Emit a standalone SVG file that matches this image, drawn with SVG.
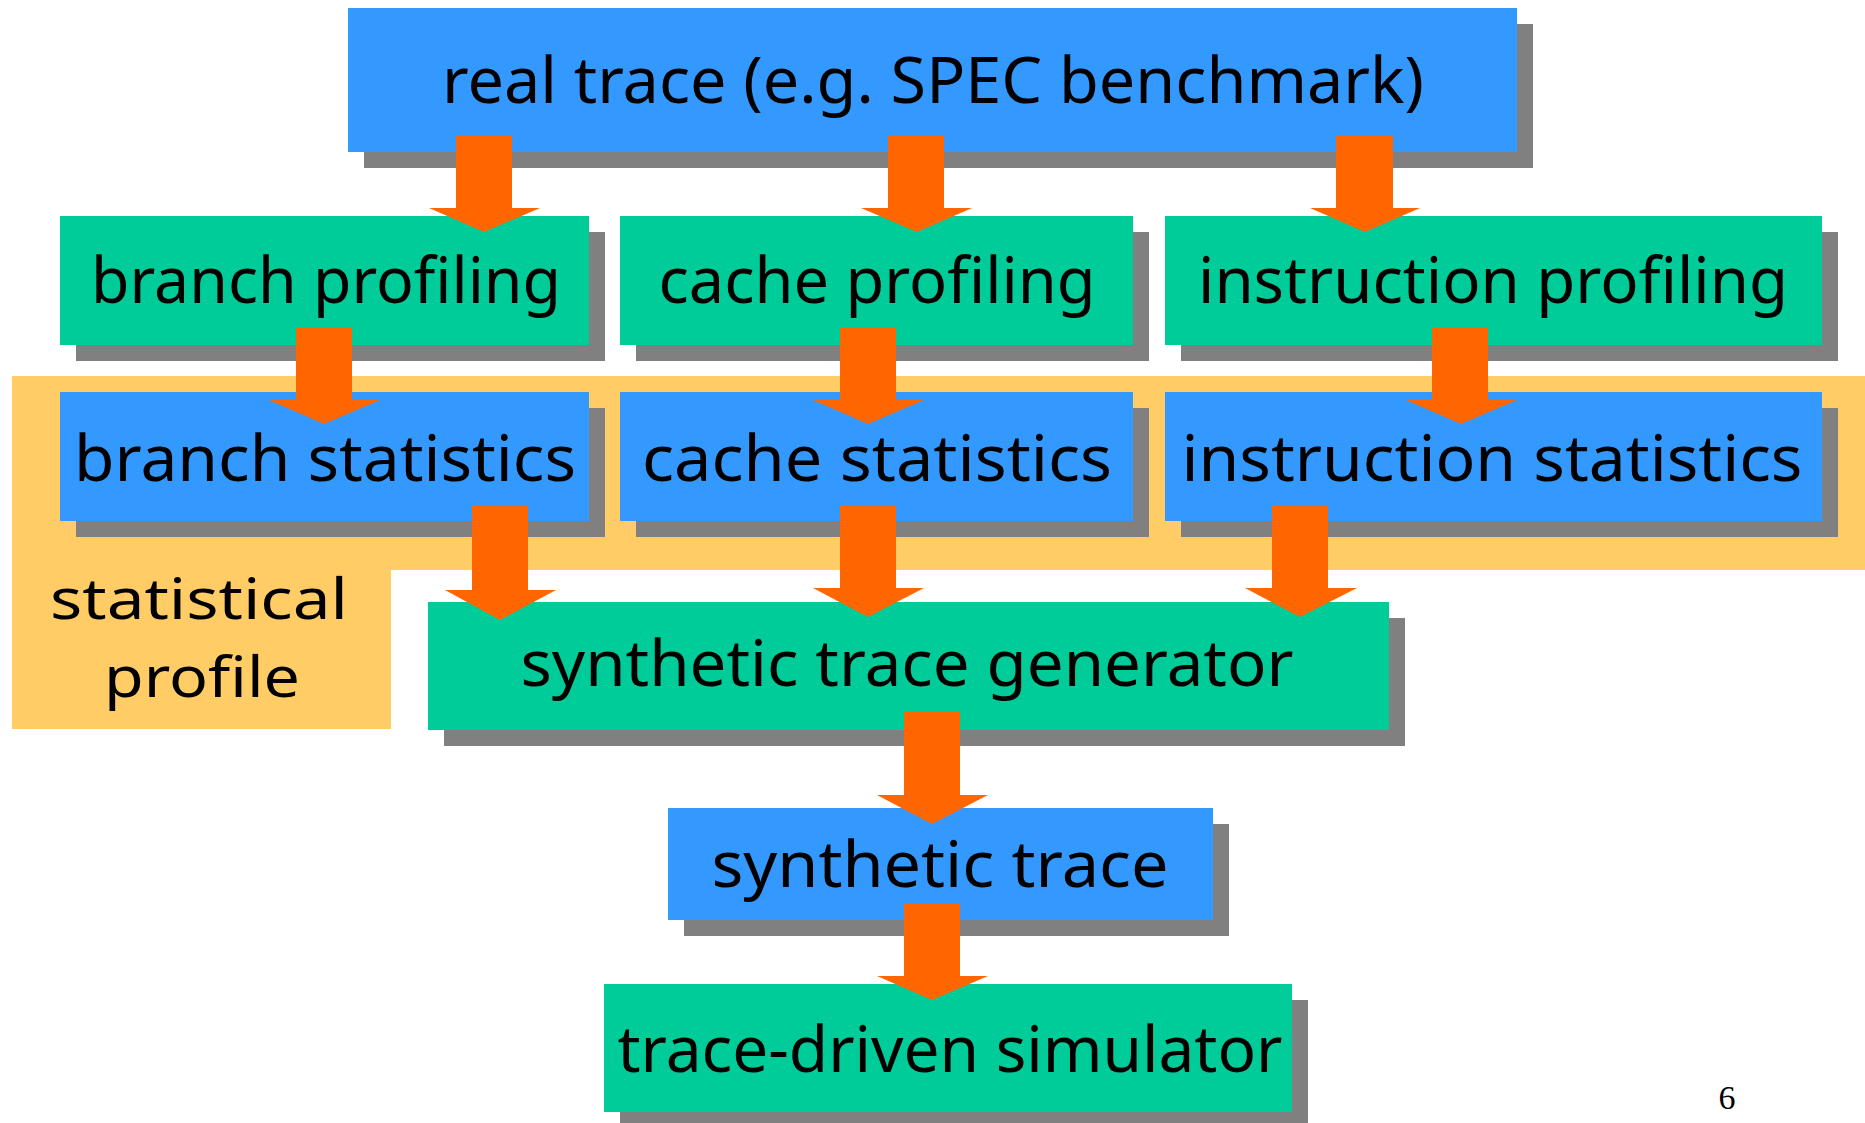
<svg xmlns="http://www.w3.org/2000/svg" width="1865" height="1123" viewBox="0 0 1865 1123">
<style>
.bg{fill:#FFFFFF}
.shadow{fill:#808080}
.blue{fill:#3399FF}
.green{fill:#00CC99}
.region{fill:#FFCC66}
.arrow{fill:#FF6600}
.lbl{font-family:"Noto Sans","DejaVu Sans",sans-serif;font-size:64px;fill:#000000;text-anchor:middle}
.sp{font-size:56px}
.pg{font-family:"Liberation Serif",serif;font-size:34px;fill:#000000;text-anchor:middle}
</style>
<rect class="bg" x="0" y="0" width="1865" height="1123"/>
<g id="statistical-profile">
<polygon class="region" points="12,376 1865,376 1865,570 391,570 391,729 12,729"/>
<text class="lbl sp" x="199" y="619" textLength="298" lengthAdjust="spacingAndGlyphs">statistical</text>
<text class="lbl sp" x="202" y="697" textLength="196" lengthAdjust="spacingAndGlyphs">profile</text>
</g>
<g id="real-trace">
<rect class="shadow" x="364" y="24" width="1169" height="144"/>
<rect class="blue" x="348" y="8" width="1169" height="144"/>
<text class="lbl" x="933" y="103" textLength="982" lengthAdjust="spacingAndGlyphs">real trace (e.g. SPEC benchmark)</text>
</g>
<g id="branch-profiling">
<rect class="shadow" x="76" y="232" width="529" height="129"/>
<rect class="green" x="60" y="216" width="529" height="129"/>
<text class="lbl" x="326" y="303" textLength="470" lengthAdjust="spacingAndGlyphs">branch profiling</text>
</g>
<g id="cache-profiling">
<rect class="shadow" x="636" y="232" width="513" height="129"/>
<rect class="green" x="620" y="216" width="513" height="129"/>
<text class="lbl" x="877" y="303" textLength="437" lengthAdjust="spacingAndGlyphs">cache profiling</text>
</g>
<g id="instruction-profiling">
<rect class="shadow" x="1181" y="232" width="657" height="129"/>
<rect class="green" x="1165" y="216" width="657" height="129"/>
<text class="lbl" x="1493" y="303" textLength="590" lengthAdjust="spacingAndGlyphs">instruction profiling</text>
</g>
<g id="branch-statistics">
<rect class="shadow" x="76" y="408" width="529" height="129"/>
<rect class="blue" x="60" y="392" width="529" height="129"/>
<text class="lbl" x="325" y="481" textLength="502" lengthAdjust="spacingAndGlyphs">branch statistics</text>
</g>
<g id="cache-statistics">
<rect class="shadow" x="636" y="408" width="513" height="129"/>
<rect class="blue" x="620" y="392" width="513" height="129"/>
<text class="lbl" x="877" y="481" textLength="470" lengthAdjust="spacingAndGlyphs">cache statistics</text>
</g>
<g id="instruction-statistics">
<rect class="shadow" x="1181" y="408" width="657" height="129"/>
<rect class="blue" x="1165" y="392" width="657" height="129"/>
<text class="lbl" x="1492" y="481" textLength="621" lengthAdjust="spacingAndGlyphs">instruction statistics</text>
</g>
<g id="synthetic-trace-generator">
<rect class="shadow" x="444" y="618" width="961" height="128"/>
<rect class="green" x="428" y="602" width="961" height="128"/>
<text class="lbl" x="907" y="686" textLength="773" lengthAdjust="spacingAndGlyphs">synthetic trace generator</text>
</g>
<g id="synthetic-trace">
<rect class="shadow" x="684" y="824" width="545" height="112"/>
<rect class="blue" x="668" y="808" width="545" height="112"/>
<text class="lbl" x="940" y="887" textLength="457" lengthAdjust="spacingAndGlyphs">synthetic trace</text>
</g>
<g id="trace-driven-simulator">
<rect class="shadow" x="620" y="1000" width="688" height="128"/>
<rect class="green" x="604" y="984" width="688" height="128"/>
<text class="lbl" x="950" y="1072" textLength="665" lengthAdjust="spacingAndGlyphs">trace-driven simulator</text>
</g>
<g id="connectors">
<polygon class="arrow" points="456,136 512,136 512,208 540,208 484,232 429,208 456,208"/>
<polygon class="arrow" points="888,136 944,136 944,208 972,208 917,232 861,208 888,208"/>
<polygon class="arrow" points="1336,136 1393,136 1393,208 1420,208 1365,232 1310,208 1336,208"/>
<polygon class="arrow" points="296,328 352,328 352,400 380,400 324,424 269,400 296,400"/>
<polygon class="arrow" points="840,328 896,328 896,400 924,400 868,424 813,400 840,400"/>
<polygon class="arrow" points="1432,328 1488,328 1488,400 1517,400 1461,424 1406,400 1432,400"/>
<polygon class="arrow" points="472,506 528,506 528,590 556,590 500,620 445,590 472,590"/>
<polygon class="arrow" points="840,506 896,506 896,588 924,588 868,617 813,588 840,588"/>
<polygon class="arrow" points="1272,506 1328,506 1328,588 1357,588 1300,617 1245,588 1272,588"/>
<polygon class="arrow" points="904,712 960,712 960,795 988,795 932,824 877,795 904,795"/>
<polygon class="arrow" points="904,904 960,904 960,976 988,976 932,1000 877,976 904,976"/>
</g>
<text class="pg" x="1727" y="1109">6</text>
</svg>
